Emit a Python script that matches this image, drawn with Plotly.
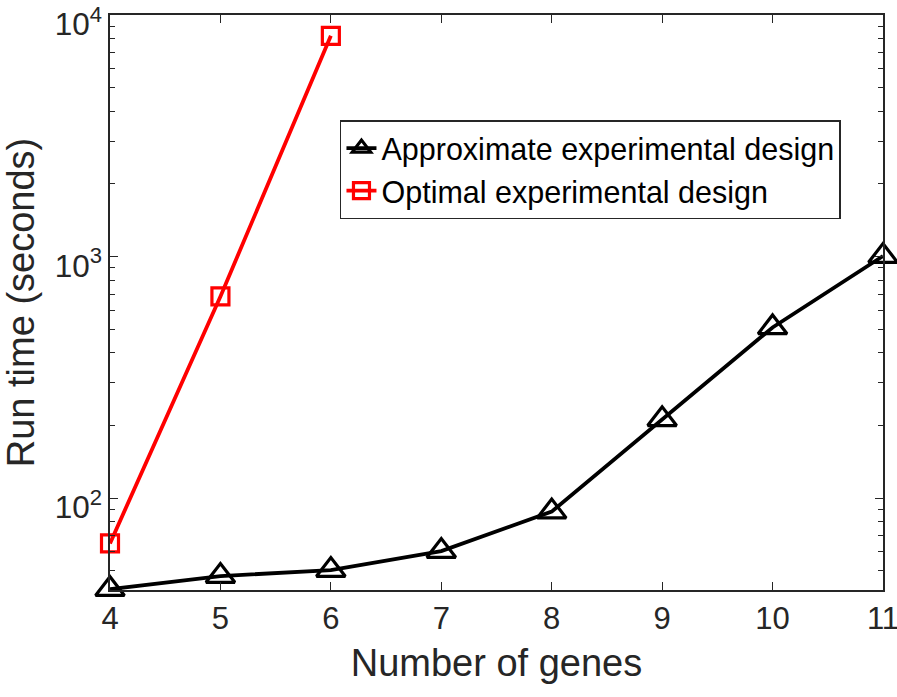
import plotly.graph_objects as go

genes = [4, 5, 6, 7, 8, 9, 10, 11]
approx_time = [42, 47.6, 50.4, 60.4, 88, 212, 509, 1005]
optimal_genes = [4, 5, 6]
optimal_time = [65, 684, 8200]

y_major = [100, 1000, 10000]
y_major_text = ["10<sup>2</sup>", "10<sup>3</sup>", "10<sup>4</sup>"]
y_minor = [m * 10 ** e for e in (1, 2, 3) for m in range(2, 10)]

FONT = "Liberation Sans, Arial, Helvetica, sans-serif"
AX = "#262626"

fig = go.Figure()
fig.add_trace(go.Scatter(
    x=genes, y=approx_time, mode="lines+markers",
    name="Approximate experimental design",
    line=dict(color="black", width=3.8),
    marker=dict(symbol="triangle-up-open", size=25, color="black",
                line=dict(width=3.2, color="black")),
    cliponaxis=False,
))
fig.add_trace(go.Scatter(
    x=optimal_genes, y=optimal_time, mode="lines+markers",
    name="Optimal experimental design",
    line=dict(color="red", width=3.8),
    marker=dict(symbol="square-open", size=17, color="red",
                line=dict(width=3.2, color="red")),
    cliponaxis=False,
))

fig.update_layout(
    width=897, height=697,
    margin=dict(l=110, r=14, t=15, b=107),
    plot_bgcolor="white", paper_bgcolor="white",
    font=dict(family=FONT, size=31, color=AX),
    showlegend=True,
    legend=dict(
        x=0.2975, y=0.817, xanchor="left", yanchor="top",
        bgcolor="white", bordercolor=AX, borderwidth=1.5,
        font=dict(size=30.5, color="black"),
        tracegroupgap=0, itemwidth=30,
    ),
)
fig.update_xaxes(
    range=[4, 11], tickvals=genes, ticks="inside", ticklen=8,
    tickcolor=AX, tickwidth=1.2, showline=True, linecolor=AX, linewidth=1.5,
    mirror="allticks", showgrid=False, zeroline=False, automargin=False,
    ticklabeloverflow="allow",
    tickfont=dict(size=31, color=AX),
    title=dict(text="Number of genes", font=dict(size=38, color=AX), standoff=14),
)
fig.update_yaxes(
    type="log", range=[1.62, 4], tickvals=y_major, ticktext=y_major_text,
    ticks="inside", ticklen=8, tickcolor=AX, tickwidth=1.2,
    showline=True, linecolor=AX, linewidth=1.5, mirror="allticks",
    showgrid=False, zeroline=False, automargin=False,
    ticklabeloverflow="allow", ticklabelshift=9,
    minor=dict(tickvals=y_minor, ticks="inside", ticklen=5, tickcolor=AX, tickwidth=1.2),
    tickfont=dict(size=31.5, color=AX),
    title=dict(text="Run time (seconds)", font=dict(size=38, color=AX), standoff=12),
)

fig.write_html("out.html", config={"displayModeBar": False},
               post_script="document.body.style.margin='0';")
